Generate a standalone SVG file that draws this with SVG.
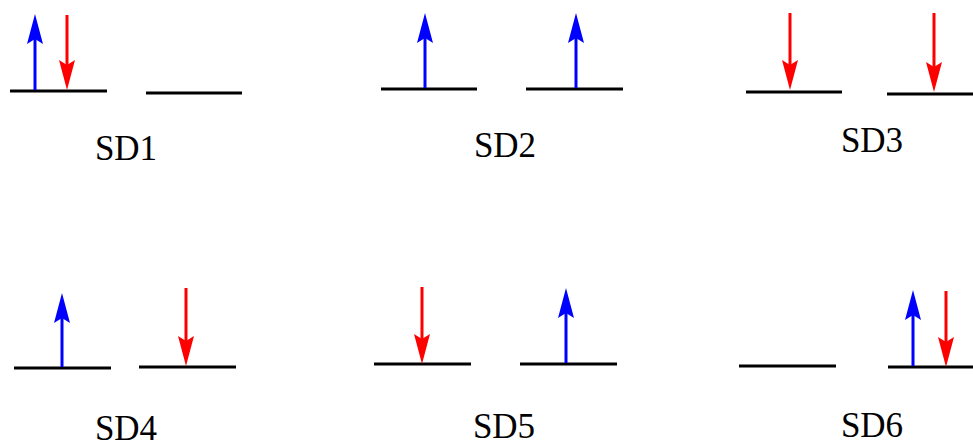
<svg xmlns="http://www.w3.org/2000/svg" width="973" height="448" viewBox="0 0 973 448">
<style>
.lvl{stroke:#000;stroke-width:3;fill:none}
.up{stroke:#0000ff;stroke-width:3;fill:none;marker-end:url(#hb)}
.dn{stroke:#ff0000;stroke-width:3;fill:none;marker-end:url(#hr)}
.lbl{font-family:"Liberation Serif","Times New Roman",serif;font-size:35px;fill:#000;text-anchor:middle}
</style>
<defs>
<marker id="hb" markerUnits="userSpaceOnUse" viewBox="0 -8 30 16" markerWidth="30" markerHeight="16" refX="5" refY="0" orient="auto"><path d="M30,0 L0,-8 L5,0 L0,8 Z" fill="#0000ff"/></marker>
<marker id="hr" markerUnits="userSpaceOnUse" viewBox="0 -8 30 16" markerWidth="30" markerHeight="16" refX="5" refY="0" orient="auto"><path d="M30,0 L0,-8 L5,0 L0,8 Z" fill="#ff0000"/></marker>
</defs>
<rect width="973" height="448" fill="#fff"/>
<g id="SD1">
<line class="lvl" x1="10" y1="91" x2="107" y2="91"/>
<line class="lvl" x1="146" y1="93" x2="242" y2="93"/>
<text class="lbl" x="126" y="160">SD1</text>
</g>
<g id="SD2">
<line class="lvl" x1="381" y1="89" x2="477" y2="89"/>
<line class="lvl" x1="526" y1="89" x2="623" y2="89"/>
<text class="lbl" x="505" y="157">SD2</text>
</g>
<g id="SD3">
<line class="lvl" x1="746" y1="92" x2="842" y2="92"/>
<line class="lvl" x1="887" y1="94" x2="973" y2="94"/>
<text class="lbl" x="872" y="152">SD3</text>
</g>
<g id="SD4">
<line class="lvl" x1="14" y1="368" x2="111" y2="368"/>
<line class="lvl" x1="139" y1="367" x2="236" y2="367"/>
<text class="lbl" x="126" y="440">SD4</text>
</g>
<g id="SD5">
<line class="lvl" x1="374" y1="364" x2="471" y2="364"/>
<line class="lvl" x1="520" y1="364" x2="617" y2="364"/>
<text class="lbl" x="504" y="438">SD5</text>
</g>
<g id="SD6">
<line class="lvl" x1="739" y1="366" x2="836" y2="366"/>
<line class="lvl" x1="888" y1="367" x2="973" y2="367"/>
<text class="lbl" x="872" y="437">SD6</text>
</g>
<g id="connectors">
<line class="up" x1="35" y1="90" x2="35" y2="39"/>
<line class="dn" x1="67" y1="15" x2="67" y2="65"/>
<line class="up" x1="425" y1="88" x2="425" y2="38"/>
<line class="up" x1="576" y1="88" x2="576" y2="38"/>
<line class="dn" x1="790" y1="13" x2="790" y2="65"/>
<line class="dn" x1="934" y1="13" x2="934" y2="67"/>
<line class="up" x1="62" y1="367" x2="62" y2="318"/>
<line class="dn" x1="186" y1="288" x2="186" y2="341"/>
<line class="dn" x1="422" y1="287" x2="422" y2="339"/>
<line class="up" x1="566" y1="363" x2="566" y2="313"/>
<line class="up" x1="913" y1="366" x2="913" y2="315"/>
<line class="dn" x1="946" y1="291" x2="946" y2="342"/>
</g>
</svg>
